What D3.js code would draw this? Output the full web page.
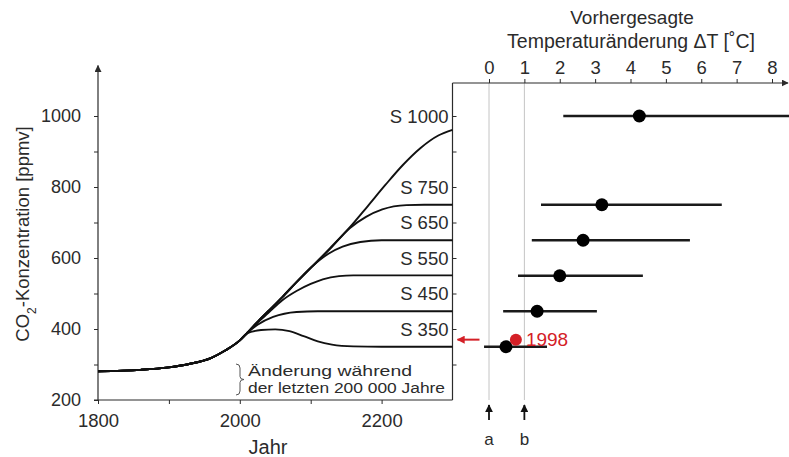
<!DOCTYPE html>
<html>
<head>
<meta charset="utf-8">
<script src="https://cdn.jsdelivr.net/npm/d3@7"></script>
<style>
  body { margin: 0; background: #fff; }
  svg { font-family: "Liberation Sans", Arial, sans-serif; }
</style>
</head>
<body>
<script>
'use strict';

// CO2 history (shared by every scenario), year / ppmv
const histYears = [1800, 1860, 1900, 1930, 1960, 1980, 2000, 2010];
const histPpm   = [281, 285, 292, 302, 319, 340, 368, 388];

// stabilisation scenarios after 2010 (year, ppmv)
const s350  = [[2030, 397], [2050, 399], [2070, 394], [2090, 380], [2110, 365], [2130, 356], [2160, 351], [2200, 350], [2300, 350]];
const s450  = [[2025, 412], [2047, 434], [2080, 448], [2110, 450], [2300, 450]];
const s550  = [[2025, 418], [2040, 445], [2060, 481], [2080, 507], [2100, 527], [2117, 540], [2140, 549], [2160, 551], [2300, 551]];
const s650  = [[2025, 420], [2040, 450], [2060, 490], [2080, 532], [2103, 578], [2125, 612], [2145, 632], [2170, 645], [2200, 650], [2300, 650]];
const s750  = [[2025, 420], [2040, 450], [2060, 490], [2080, 532], [2103, 578], [2127, 625], [2155, 684], [2178, 716], [2201, 737], [2235, 749], [2260, 750], [2300, 750]];
const s1000 = [[2025, 420], [2040, 450], [2060, 490], [2080, 532], [2103, 578], [2127, 627], [2155, 686], [2180, 745], [2205, 805], [2230, 862], [2255, 910], [2280, 945], [2300, 961]];

// labels for the scenarios and where they sit (ppmv)
const scenarioNames = ["S 1000", "S 750", "S 650", "S 550", "S 450", "S 350"];
const labelPpm = [1000, 800, 700, 600, 500, 400];

// predicted temperature change per scenario
const stabPpm  = [1000, 750, 650, 550, 450, 350];
const tempMid  = [4.25, 3.19, 2.66, 2.0, 1.36, 0.48];
const tempLow  = [2.1, 1.47, 1.21, 0.82, 0.40, -0.14];
const tempHigh = [8.5, 6.58, 5.68, 4.35, 3.05, 1.64];

// 1998 observation
const obsLabel = "1998";
const obsPpm = 370;
const obsTemp = 0.76;

// axis ticks
const yearTicks = [1800, 2000, 2200];
const yearMinor = [1900, 2100];
const ppmTicks = [200, 400, 600, 800, 1000];
const ppmMinor = [300, 500, 700, 900];
const tempTicks = [0, 1, 2, 3, 4, 5, 6, 7, 8];
const refTemps = [0, 1];
const refNames = ["a", "b"];
const noteLines = ["Änderung während", "der letzten 200 000 Jahre"];

const W = 789, H = 457;
const ink = "#2b2b2b";
const red = "#d42027";

const svg = d3.select("body").append("svg")
  .attr("width", W).attr("height", H);

// scales
const x = d3.scaleLinear().domain([1800, 2300]).range([98, 452.5]);
const y = d3.scaleLinear().domain([200, 1000]).range([400, 116]);
const xT = d3.scaleLinear().domain([0, 8]).range([489, 772]);

const defs = svg.append("defs");
function arrowMarker(id, color, size) {
  defs.append("marker")
    .attr("id", id)
    .attr("viewBox", "0 0 10 10")
    .attr("refX", 9).attr("refY", 5)
    .attr("markerWidth", size).attr("markerHeight", size)
    .attr("markerUnits", "userSpaceOnUse")
    .attr("orient", "auto")
    .append("path")
      .attr("d", "M0,0 L10,5 L0,10 Z")
      .attr("fill", color);
}
arrowMarker("arrK", ink, 7);
arrowMarker("arrB", "#111", 8);
arrowMarker("arrR", red, 8);

// grey reference lines at 0 and 1 degree
svg.selectAll(".ref")
  .data(refTemps)
  .enter().append("line")
    .attr("x1", d => xT(d)).attr("x2", d => xT(d))
    .attr("y1", 83).attr("y2", y(200))
    .attr("stroke", "#c4c4c4").attr("stroke-width", 1);

// ---- left panel axes
function styleAxis(g, size) {
  g.selectAll("path.domain").remove();
  g.selectAll("line").attr("stroke", ink).attr("stroke-width", 1);
  g.selectAll("text")
    .attr("fill", ink)
    .style("font-size", size + "px")
    .style("font-family", "'Liberation Sans', Arial, sans-serif");
}

svg.append("g")
  .attr("transform", "translate(" + x(1800) + ",0)")
  .call(d3.axisLeft(y).tickValues(ppmTicks).tickSize(4).tickPadding(13).tickFormat(d3.format("d")))
  .call(g => styleAxis(g, 18));

svg.append("g")
  .attr("transform", "translate(" + x(1800) + ",0)")
  .call(d3.axisLeft(y).tickValues(ppmMinor).tickSize(4).tickFormat(""))
  .call(g => styleAxis(g, 18));

// y-axis line with arrow
svg.append("line")
  .attr("x1", x(1800)).attr("x2", x(1800))
  .attr("y1", y(200)).attr("y2", y(1142))
  .attr("stroke", ink).attr("stroke-width", 1.2)
  .attr("marker-end", "url(#arrK)");

// x axis
svg.append("g")
  .attr("transform", "translate(0," + y(200) + ")")
  .call(d3.axisBottom(x).tickValues(yearTicks).tickSize(4).tickPadding(10).tickFormat(d3.format("d")))
  .call(g => styleAxis(g, 18.5));

svg.append("g")
  .attr("transform", "translate(0," + y(200) + ")")
  .call(d3.axisBottom(x).tickValues(yearMinor).tickSize(4).tickFormat(""))
  .call(g => styleAxis(g, 18));

svg.append("line")
  .attr("x1", x(1800) - 4).attr("x2", x(2300))
  .attr("y1", y(200)).attr("y2", y(200))
  .attr("stroke", ink).attr("stroke-width", 1.2);

// right-hand vertical axis (panel divider)
svg.append("g")
  .attr("transform", "translate(" + x(2300) + ",0)")
  .call(d3.axisRight(y).tickValues(ppmMinor.concat(ppmTicks).filter(d => d > 200)).tickSize(4).tickFormat(""))
  .call(g => styleAxis(g, 18));

svg.append("line")
  .attr("x1", x(2300)).attr("x2", x(2300))
  .attr("y1", 83).attr("y2", y(200))
  .attr("stroke", ink).attr("stroke-width", 1.2);

// axis titles
svg.append("text")
  .attr("transform", "translate(29," + 234 + ")rotate(-90)")
  .attr("text-anchor", "middle")
  .attr("fill", ink)
  .style("font-size", "18.5px")
  .html('CO<tspan baseline-shift="sub" font-size="12px">2</tspan>-Konzentration [ppmv]');

svg.append("text")
  .attr("x", 268).attr("y", 454)
  .attr("text-anchor", "middle")
  .attr("fill", ink)
  .style("font-size", "20px")
  .text("Jahr");

// ---- CO2 curves
const hist = histYears.map((d, i) => [d, histPpm[i]]);
const scenarios = [s1000, s750, s650, s550, s450, s350];

const line = d3.line()
  .x(d => x(d[0]))
  .y(d => y(d[1]))
  .curve(d3.curveMonotoneX);

svg.selectAll(".curve")
  .data(scenarios)
  .enter().append("path")
    .attr("class", "curve")
    .attr("d", d => line(hist.concat(d)))
    .attr("fill", "none")
    .attr("stroke", "#111")
    .attr("stroke-width", 1.9);

// scenario labels
svg.selectAll(".slab")
  .data(scenarioNames)
  .enter().append("text")
    .attr("x", x(2300) - 4)
    .attr("y", (d, i) => y(labelPpm[i]) + 6.5)
    .attr("text-anchor", "end")
    .attr("fill", ink)
    .style("font-size", "18.5px")
    .text(d => d);

// glacial range note with brace
const bx = 236, bt = 364, bb = 395, bm = (bt + bb) / 2;
svg.append("path")
  .attr("d", "M" + bx + "," + bt +
    " Q" + (bx + 4) + "," + bt + " " + (bx + 4) + "," + (bt + 4) +
    " L" + (bx + 4) + "," + (bm - 3) +
    " Q" + (bx + 4) + "," + bm + " " + (bx + 8) + "," + bm +
    " Q" + (bx + 4) + "," + bm + " " + (bx + 4) + "," + (bm + 3) +
    " L" + (bx + 4) + "," + (bb - 4) +
    " Q" + (bx + 4) + "," + bb + " " + bx + "," + bb)
  .attr("fill", "none")
  .attr("stroke", "#555")
  .attr("stroke-width", 1);

svg.selectAll(".note")
  .data(noteLines)
  .enter().append("text")
    .attr("x", 248)
    .attr("y", (d, i) => 376 + i * 17)
    .attr("fill", ink)
    .style("font-size", "15.5px")
    .attr("textLength", (d, i) => i === 0 ? 164 : 197)
    .attr("lengthAdjust", "spacingAndGlyphs")
    .text(d => d);

// ---- right panel: temperature axis on top
svg.append("g")
  .attr("transform", "translate(0,83)")
  .call(d3.axisTop(xT).tickValues(tempTicks).tickSize(4).tickPadding(5).tickFormat(d3.format("d")))
  .call(g => styleAxis(g, 18.5));

svg.append("line")
  .attr("x1", x(2300)).attr("x2", W - 1)
  .attr("y1", 83).attr("y2", 83)
  .attr("stroke", ink).attr("stroke-width", 1.2)
  .attr("marker-end", "url(#arrK)");

svg.append("text")
  .attr("x", 632).attr("y", 24)
  .attr("text-anchor", "middle")
  .attr("fill", ink)
  .style("font-size", "19px")
  .text("Vorhergesagte");

svg.append("text")
  .attr("x", 631).attr("y", 48)
  .attr("text-anchor", "middle")
  .attr("fill", ink)
  .style("font-size", "19.5px")
  .text("Temperaturänderung ΔT [˚C]");

// error bars and best estimates
svg.selectAll(".bar")
  .data(stabPpm)
  .enter().append("line")
    .attr("x1", (d, i) => xT(tempLow[i]))
    .attr("x2", (d, i) => xT(tempHigh[i]))
    .attr("y1", d => y(d)).attr("y2", d => y(d))
    .attr("stroke", "#1a1a1a")
    .attr("stroke-width", 2.4);

svg.selectAll(".dot")
  .data(stabPpm)
  .enter().append("circle")
    .attr("cx", (d, i) => xT(tempMid[i]))
    .attr("cy", d => y(d))
    .attr("r", 6.5)
    .attr("fill", "#000");

// 1998 observation
svg.append("circle")
  .attr("cx", xT(obsTemp)).attr("cy", y(obsPpm))
  .attr("r", 6)
  .attr("fill", red);

svg.append("text")
  .attr("x", xT(obsTemp) + 10).attr("y", y(obsPpm) + 6.5)
  .attr("fill", red)
  .style("font-size", "19px")
  .text(obsLabel);

svg.append("line")
  .attr("x1", x(2300) + 27).attr("x2", x(2300) + 5)
  .attr("y1", y(obsPpm)).attr("y2", y(obsPpm))
  .attr("stroke", red).attr("stroke-width", 2)
  .attr("marker-end", "url(#arrR)");

// a / b markers under the reference lines
svg.selectAll(".refArrow")
  .data(refTemps)
  .enter().append("line")
    .attr("x1", d => xT(d)).attr("x2", d => xT(d))
    .attr("y1", 420).attr("y2", 405)
    .attr("stroke", "#111").attr("stroke-width", 1.8)
    .attr("marker-end", "url(#arrB)");

svg.selectAll(".refName")
  .data(refNames)
  .enter().append("text")
    .attr("x", (d, i) => xT(refTemps[i]))
    .attr("y", 445)
    .attr("text-anchor", "middle")
    .attr("fill", ink)
    .style("font-size", "17px")
    .text(d => d);
</script>
</body>
</html>
